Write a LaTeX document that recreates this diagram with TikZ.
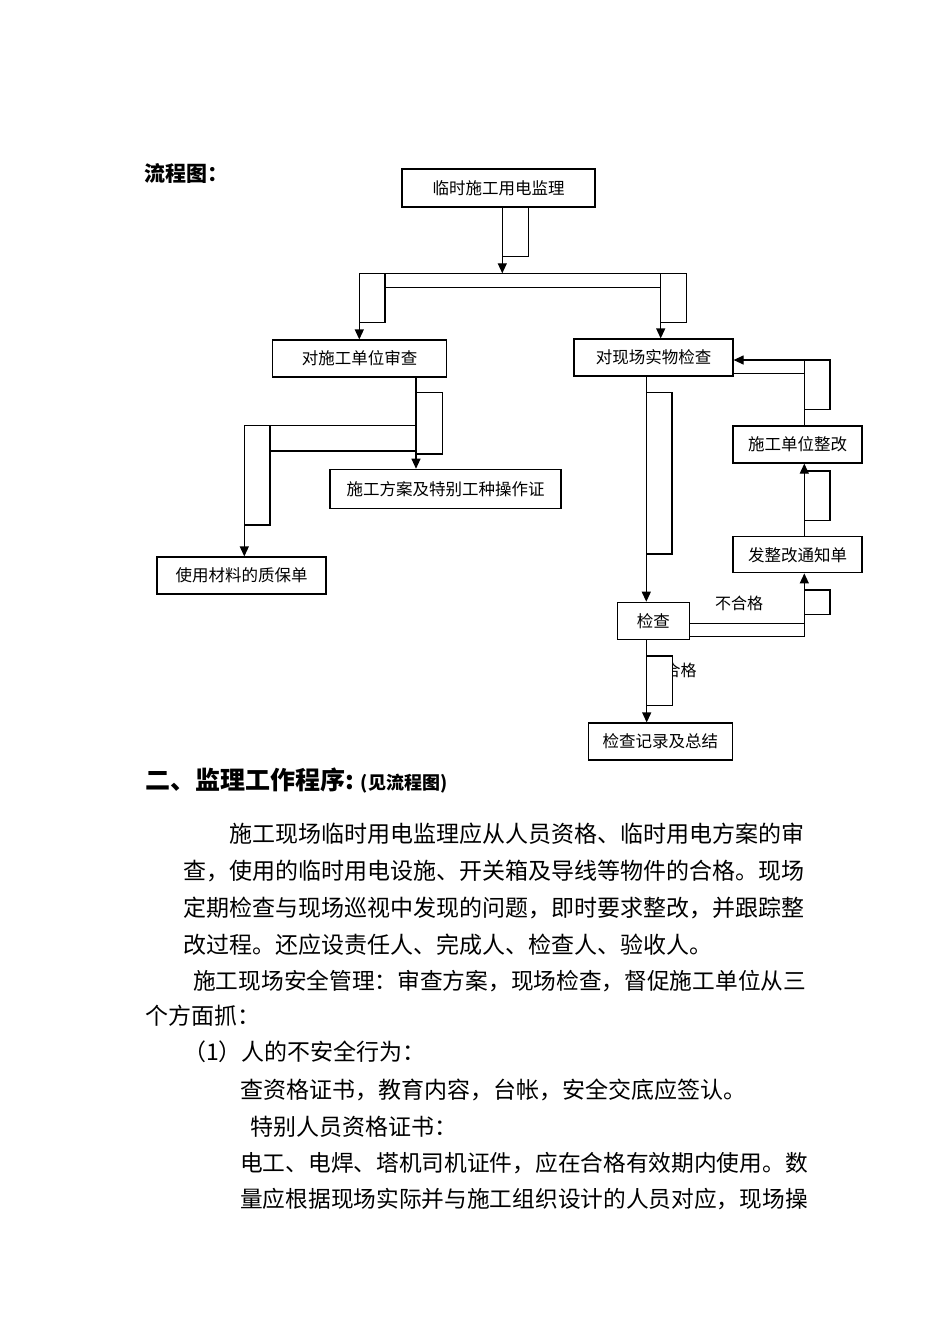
\documentclass[tikz,border=0pt]{standalone}
\usepackage{fontspec}
\setmainfont{Noto Sans CJK SC}
\usetikzlibrary{arrows.meta}
\begin{document}
\begin{tikzpicture}[x=1pt,y=-1pt,
  box/.style={draw, line width=1.2pt, inner sep=0pt, font=\fontsize{16.5}{16.5}\selectfont},
  conn/.style={line width=1.2pt, -{Triangle[length=10pt,width=9pt]}},
  ln/.style={line width=1.2pt},
  lbl/.style={inner sep=0pt, font=\fontsize{16}{16}\selectfont},
  txt/.style={anchor=west, inner sep=0pt, font=\fontsize{23}{23}\selectfont}]
\useasboundingbox[fill=white] (0,0) rectangle (950,1344);

% titles
\node[anchor=west, inner sep=0pt, font=\bfseries\fontsize{21}{21}\selectfont] (t0) at (144,173) {流程图：};

% boxes
\node[box, minimum width=193pt, minimum height=38pt] (A) at (498.5,188) {临时施工用电监理};
\node[box, minimum width=174pt, minimum height=37pt] (B) at (359.5,358.5) {对施工单位审查};
\node[box, minimum width=159pt, minimum height=37pt] (C) at (653.5,357.5) {对现场实物检查};
\node[box, minimum width=231pt, minimum height=39pt] (D) at (445.5,488.8) {施工方案及特别工种操作证};
\node[box, minimum width=169pt, minimum height=37pt] (E) at (241.5,575.5) {使用材料的质保单};
\node[box, minimum width=129pt, minimum height=37pt] (F) at (797.5,444.5) {施工单位整改};
\node[box, minimum width=129pt, minimum height=36pt] (G) at (797.5,554.8) {发整改通知单};
\node[box, minimum width=72pt, minimum height=37pt] (H) at (653.3,620.8) {检查};
\node[box, minimum width=144pt, minimum height=37pt] (I) at (660.3,741.5) {检查记录及总结};

% labels
\node[lbl] (nok) at (739,603.3) {不合格};
\node[lbl] (ok) at (680.5,670) {合格};

% split coordinates
\coordinate (s1) at (502.3,273.3);
\coordinate (sL) at (359.3,273.3);
\coordinate (sR) at (660.7,273.3);
\coordinate (b1) at (416,425.7);
\coordinate (e1) at (244.3,425.7);
\coordinate (c1) at (646.3,500);
\coordinate (h1) at (804.3,623.3);
\coordinate (g1) at (804.3,500);
\coordinate (f1) at (804.3,360);
\coordinate (i1) at (646.7,680);

% artifact rectangles and extra lines
\draw[ln] (502.3,207) rectangle (528.3,256.7);
\draw[ln] (359.3,273.3) rectangle (385,322.7);
\draw[ln] (660.7,273.3) rectangle (686.7,322.7);
\draw[ln] (385,287.7) -- (660.7,287.7);
\draw[ln] (416,392.3) rectangle (442.3,454);
\draw[ln] (244.3,425.7) rectangle (270,525);
\draw[ln] (270,451) -- (416,451);
\draw[ln] (646.3,392.3) rectangle (672,554);
\draw[ln] (804.3,360) rectangle (830,409.3);
\draw[ln] (C.east |- 0,373.3) -- (804.3,373.3);
\draw[ln] (804.3,471) rectangle (830,520.7);
\draw[ln] (804.3,590) rectangle (830,614.3);
\draw[ln] (H.east |- 0,636.7) -- (804.3,636.7) -- (h1);
\draw[ln, fill=white] (646.7,656) rectangle (672.3,705.7);

% connectors
\draw[conn] (A.south -| s1) -- (s1);
\draw[ln] (sL) -- (sR);
\draw[conn] (sL) -- (sL |- B.north);
\draw[conn] (sR) -- (sR |- C.north);
\draw[conn] (B.south -| b1) -- (b1 |- D.north);
\draw[conn] (b1) -- (e1) -- (e1 |- E.north);
\draw[conn] (C.south -| c1) -- (c1 |- H.north);
\draw[conn] (H.east |- h1) -- (h1) -- (h1 |- G.south);
\draw[conn] (G.north -| g1) -- (g1 |- F.south);
\draw[conn] (F.north -| f1) -- (f1) -- (C.east |- f1);
\draw[conn] (H.south -| i1) -- (i1 |- I.north);

% text section
\node[anchor=west, inner sep=0pt, font=\bfseries\fontsize{25}{25}\selectfont] (t1) at (145,781) {二、监理工作程序:\hspace{7pt}{\fontsize{18}{18}\selectfont(见流程图)}};
\node[txt] (l1) at (229,834) {施工现场临时用电监理应从人员资格、临时用电方案的审};
\node[txt] (l2) at (183.5,871) {查，使用的临时用电设施、开关箱及导线等物件的合格。现场};
\node[txt] (l3) at (183.5,908) {定期检查与现场巡视中发现的问题，即时要求整改，并跟踪整};
\node[txt] (l4) at (183.5,945) {改过程。还应设责任人、完成人、检查人、验收人。};
\node[txt, font=\fontsize{22.7}{22.7}\selectfont] (l5) at (193,981) {施工现场安全管理：审查方案，现场检查，督促施工单位从三};
\node[txt] (l6) at (145,1016) {个方面抓：};
\node[txt] (l7) at (183,1052) {（1）人的不安全行为：};
\node[txt] (l8) at (240,1090) {查资格证书，教育内容，台帐，安全交底应签认。};
\node[txt] (l9) at (250,1127) {特别人员资格证书：};
\node[txt, font=\fontsize{22.7}{22.7}\selectfont] (l10) at (240,1163) {电工、电焊、塔机司机证件，应在合格有效期内使用。数};
\node[txt, font=\fontsize{22.7}{22.7}\selectfont] (l11) at (240,1199) {量应根据现场实际并与施工组织设计的人员对应，现场操};
\end{tikzpicture}
\end{document}
